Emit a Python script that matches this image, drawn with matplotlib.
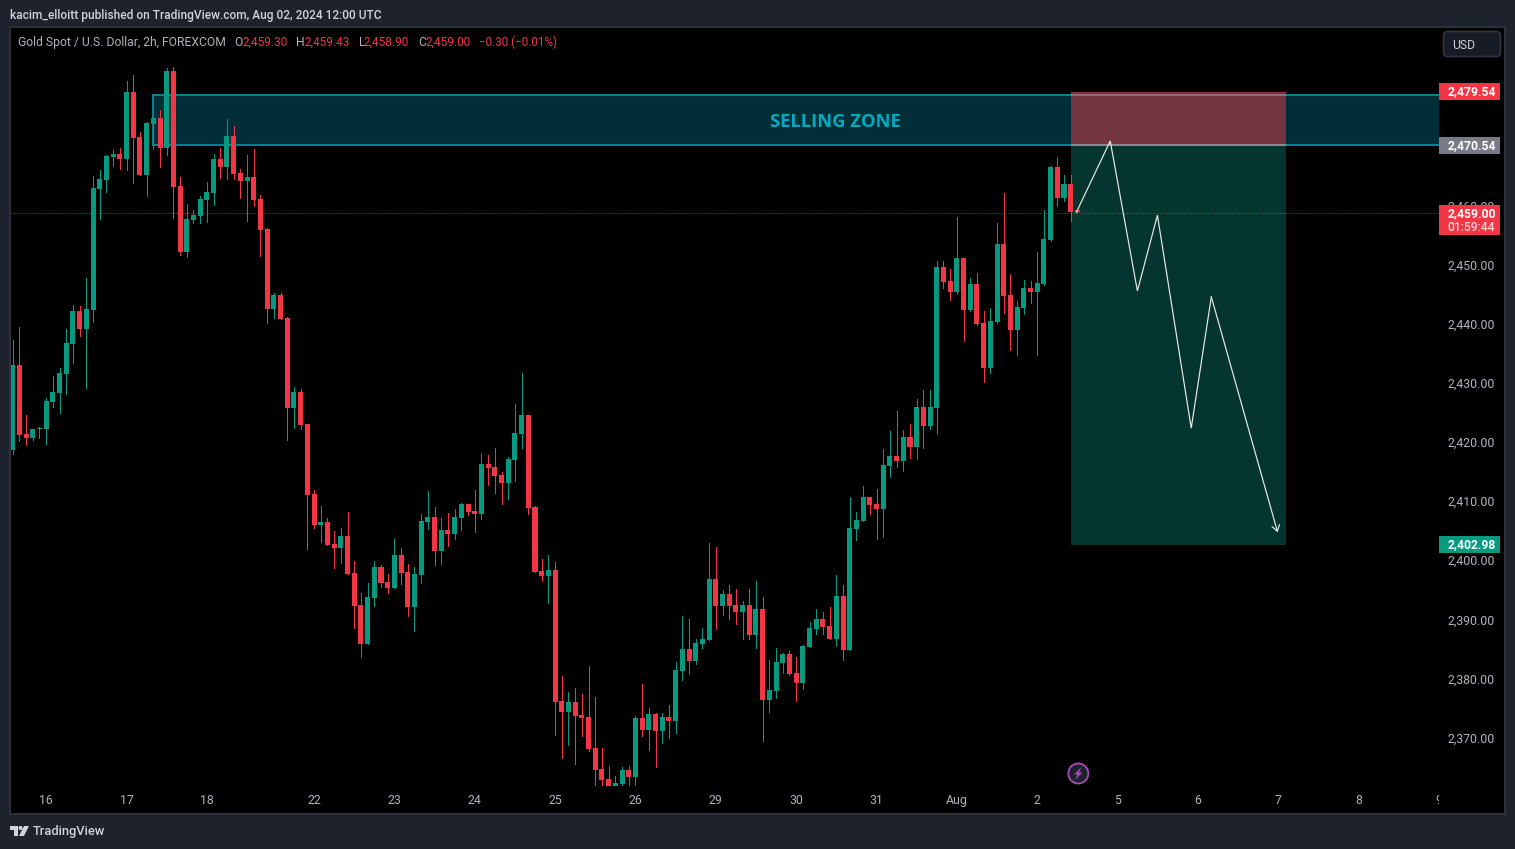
import matplotlib
matplotlib.use("Agg")
import matplotlib.pyplot as plt
from matplotlib.patches import Rectangle, FancyBboxPatch, Circle, Polygon
from matplotlib.transforms import Bbox, TransformedBbox, ScaledTranslation

plt.rcParams["font.family"] = "Roboto"

opens = [2418.8,2433.2,2421.5,2420.8,2422.4,2422.4,2426.9,2428.4,2431.7,2436.7,2442.3,2439.3,2442.5,2462.9,2464.5,2468.3,2468.9,2468.0,2479.3,2471.7,
2465.3,2473.9,2474.9,2469.9,2482.9,2463.4,2452.3,2457.7,2458.4,2461.1,2462.3,2468.0,2466.7,2471.9,2465.6,2464.3,2465.0,2461.2,2456.2,2442.6,
2445.0,2441.1,2425.9,2428.6,2423.2,2411.4,2406.1,2406.6,2402.9,2402.2,2404.3,2398.0,2392.6,2386.0,2393.8,2399.0,2396.5,2395.5,2401.1,2398.2,
2392.3,2397.7,2406.6,2407.5,2401.7,2405.3,2404.6,2407.3,2409.7,2408.5,2408.0,2416.4,2415.9,2414.6,2413.2,2417.1,2421.5,2424.7,2409.2,2398.4,
2397.5,2398.5,2376.4,2374.5,2376.2,2374.0,2373.7,2368.4,2364.9,2363.2,2362.0,2362.4,2364.7,2363.5,2373.5,2371.5,2374.2,2371.3,2373.7,2373.0,
2381.5,2385.2,2383.1,2386.0,2386.7,2397.0,2392.4,2394.5,2392.6,2391.4,2392.6,2387.5,2391.9,2376.6,2378.1,2382.8,2384.3,2381.1,2379.4,2385.5,
2388.6,2390.2,2389.1,2386.9,2394.1,2385.0,2405.5,2406.8,2410.9,2409.7,2408.8,2416.1,2417.8,2417.0,2421.0,2419.3,2426.1,2422.9,2425.9,2449.8,
2447.4,2445.5,2451.3,2442.5,2446.9,2440.3,2432.7,2440.5,2453.6,2445.0,2439.1,2442.8,2446.2,2445.5,2446.9,2454.3,2466.7,2461.4,2463.8,2459.3]
highs = [2437.4,2439.6,2424.7,2422.4,2422.7,2427.6,2431.3,2432.7,2439.3,2443.3,2443.2,2447.9,2465.1,2466.1,2468.7,2469.5,2469.9,2481.2,2482.2,2472.6,
2474.3,2474.9,2476.3,2483.4,2483.6,2465.0,2460.4,2459.4,2461.8,2464.1,2468.9,2469.9,2474.8,2473.6,2466.3,2468.7,2469.7,2461.9,2456.3,2445.4,
2445.4,2441.3,2429.5,2429.1,2423.2,2412.0,2409.3,2407.3,2405.1,2405.6,2408.3,2400.0,2394.6,2396.3,2400.0,2399.4,2397.8,2403.8,2402.2,2399.5,
2399.0,2408.0,2411.9,2409.2,2407.3,2408.2,2408.8,2409.9,2409.7,2412.0,2418.3,2418.0,2419.1,2415.1,2417.6,2426.6,2431.8,2424.7,2409.3,2400.4,
2401.1,2399.9,2380.6,2377.9,2378.6,2377.6,2382.3,2377.1,2368.4,2365.4,2363.7,2365.2,2365.4,2373.8,2379.3,2375.2,2374.4,2374.4,2375.7,2383.0,
2390.8,2390.2,2386.9,2388.7,2403.1,2402.4,2395.1,2396.0,2395.3,2393.3,2395.3,2396.7,2394.0,2383.3,2385.3,2384.5,2384.8,2383.8,2385.9,2389.7,
2391.9,2391.4,2392.3,2397.7,2396.0,2410.9,2408.3,2412.7,2410.9,2412.2,2419.0,2422.0,2425.4,2422.2,2423.2,2427.4,2429.0,2429.0,2450.8,2450.8,
2449.4,2458.2,2451.3,2447.9,2448.7,2442.3,2442.8,2457.2,2462.3,2448.6,2444.0,2447.6,2447.4,2452.3,2459.4,2466.8,2468.3,2465.3,2465.3,2459.43]
lows = [2418.1,2420.4,2419.7,2420.5,2420.8,2419.8,2426.1,2425.1,2428.3,2433.5,2438.1,2429.3,2440.4,2457.9,2462.4,2466.8,2466.3,2466.1,2463.9,2465.3,
2461.8,2469.7,2466.7,2468.7,2458.0,2451.8,2451.4,2457.2,2457.2,2457.4,2460.2,2464.8,2464.6,2464.6,2461.4,2457.5,2460.1,2451.6,2440.3,2441.1,
2441.0,2420.5,2422.5,2422.4,2402.1,2405.6,2403.3,2402.8,2398.9,2399.7,2397.8,2388.7,2383.8,2386.0,2392.4,2395.6,2394.6,2395.5,2396.2,2390.7,
2388.2,2396.3,2405.5,2399.4,2399.5,2402.6,2403.8,2405.3,2407.8,2404.9,2407.1,2412.9,2411.5,2409.7,2410.5,2413.6,2419.1,2408.0,2398.2,2396.7,
2392.9,2370.6,2366.7,2368.9,2365.7,2370.5,2367.9,2362.0,2362.0,2362.0,2362.0,2362.0,2362.0,2362.0,2370.5,2368.1,2365.2,2369.3,2370.1,2371.0,
2379.9,2380.9,2382.6,2385.3,2386.7,2388.6,2390.9,2390.2,2389.4,2386.9,2386.9,2385.3,2369.6,2374.5,2376.9,2381.1,2380.8,2376.4,2378.4,2385.5,
2387.7,2387.7,2386.9,2385.7,2383.3,2385.0,2403.6,2406.8,2408.0,2403.8,2404.1,2414.3,2415.9,2415.3,2417.5,2417.3,2419.2,2422.4,2421.5,2446.2,
2444.2,2445.2,2437.2,2442.3,2439.9,2430.3,2431.8,2440.3,2442.0,2435.7,2434.9,2441.8,2443.7,2434.9,2446.7,2454.2,2460.1,2460.9,2457.5,2458.9]
closes = [2433.2,2421.4,2420.8,2422.4,2422.5,2427.1,2428.6,2431.8,2436.9,2442.3,2439.3,2442.6,2463.1,2464.6,2468.5,2468.9,2468.0,2479.3,2471.6,2465.3,
2474.1,2474.9,2469.9,2482.9,2463.3,2452.3,2457.9,2458.5,2461.2,2462.4,2468.0,2466.7,2471.9,2465.5,2464.3,2465.0,2461.1,2456.0,2442.6,2445.0,
2441.0,2425.9,2428.6,2423.0,2411.2,2406.1,2406.6,2402.8,2402.2,2404.3,2397.8,2392.4,2386.0,2394.0,2399.0,2396.3,2395.5,2401.1,2398.0,2392.3,
2397.8,2406.8,2407.5,2401.7,2405.3,2404.6,2407.5,2409.7,2408.3,2408.0,2416.4,2415.8,2414.4,2413.2,2417.3,2421.7,2424.7,2409.0,2398.2,2397.5,
2398.5,2376.2,2374.5,2376.2,2373.8,2373.5,2368.3,2364.7,2363.0,2362.0,2362.5,2364.7,2363.5,2373.5,2371.5,2374.2,2371.3,2373.7,2373.0,2381.6,
2385.2,2383.1,2386.2,2386.9,2397.0,2392.4,2394.5,2392.4,2391.4,2392.6,2387.5,2391.9,2376.6,2378.2,2383.0,2384.3,2380.9,2379.4,2385.7,2388.7,
2390.2,2388.9,2386.9,2394.1,2385.0,2405.6,2407.0,2410.9,2409.5,2408.8,2416.3,2417.8,2417.0,2421.0,2419.3,2426.1,2422.9,2426.1,2449.8,2447.2,
2445.5,2451.3,2442.5,2446.9,2440.1,2432.7,2440.6,2453.6,2444.9,2439.1,2443.0,2446.2,2445.5,2447.1,2454.5,2466.7,2461.4,2463.8,2459.1,2459.0]

x_tick_pos = [5, 17, 29, 45, 57, 69, 81, 93, 105, 117, 129, 141, 153, 165, 177, 189, 201, 213]
x_tick_labels = ["16", "17", "18", "22", "23", "24", "25", "26", "29", "30", "31", "Aug", "2", "5", "6", "7", "8", "9"]
y_ticks = [2460, 2450, 2440, 2430, 2420, 2410, 2400, 2390, 2380, 2370]

zone_top, zone_bottom = 2479.0, 2470.54
zone_start, zone_end = 21.0, 214.0
stop_price, entry_price, target_price = 2479.54, 2470.54, 2402.98
pos_start, pos_end = 158.0, 190.1
last_price = 2459.00
path_x = [158.85, 163.9, 167.96, 170.95, 176.0, 179.0, 188.9]
path_y = [2459.0, 2471.05, 2445.7, 2458.5, 2422.5, 2444.7, 2404.9]

GREEN, RED = "#089981", "#f23645"
W, H = 1515, 849
PX = 72 / 100

fig = plt.figure(figsize=(W / 100, H / 100), dpi=100, facecolor="#1e222d")

def box(x0, y0, x1, y1):
    return [x0 / W, 1 - y1 / H, (x1 - x0) / W, (y1 - y0) / H]

bg = fig.add_axes([0, 0, 1, 1], zorder=0)
bg.set_xlim(0, W); bg.set_ylim(H, 0); bg.axis("off")
bg.add_patch(Rectangle((10, 27), 1495, 787, fc="#000000", ec="#2e323d", lw=1.4))

ax = fig.add_axes(box(11, 28, 1439, 786), zorder=1)
ax.set_facecolor("none")
ax.set_xlim((11 - 12.7) / 6.7, (1439 - 12.7) / 6.7)
ax.set_ylim(2450 + (265.5 - 786) / 5.915, 2450 + (265.5 - 28) / 5.915)
for s in ax.spines.values():
    s.set_visible(False)

ax.yaxis.tick_right()
ax.set_yticks(y_ticks)
ax.set_yticklabels([f"{v:,.2f}" for v in y_ticks])
ax.tick_params(axis="y", length=0, pad=6.3, labelsize=8.8, labelcolor="#b2b5be")
for lab in ax.get_yticklabels():
    lab.set_transform(lab.get_transform() + ScaledTranslation(0, 1 / 100, fig.dpi_scale_trans))
ax.set_xticks(x_tick_pos)
ax.set_xticklabels(x_tick_labels)
ax.tick_params(axis="x", length=0, pad=5.5, labelsize=8.8, labelcolor="#b2b5be")
clip = TransformedBbox(Bbox([[0, 0], [1439 / W, 1]]), fig.transFigure)
for lab in ax.get_xticklabels():
    lab.set_clip_box(clip)
    lab.set_clip_on(True)

# levels sit one pixel lower than the tick-derived price scale
def lv(p):
    return p - 1 / 5.915

ax.add_patch(Rectangle((zone_start, lv(zone_bottom)), zone_end - zone_start, zone_top - zone_bottom,
                       fc="#022f37", ec="#00838f", lw=2 * PX, zorder=1))
ax.add_patch(Rectangle((pos_start, lv(entry_price)), pos_end - pos_start, stop_price - entry_price,
                       fc="#733641", ec="none", zorder=2))
ax.add_patch(Rectangle((pos_start, lv(target_price)), pos_end - pos_start, entry_price - target_price,
                       fc="#04352e", ec="none", zorder=2))
ax.hlines([lv(zone_top), lv(zone_bottom)], pos_start, pos_end, colors=["#80757f", "#858a90"], lw=2 * PX, zorder=3)
ax.hlines([lv(stop_price)], pos_start, pos_end, colors=["#92303c"], lw=1 * PX, zorder=3)
ax.text(122.9, 2474.3, "SELLING ZONE", color="#00acc1", fontsize=13.2,
        fontweight="bold", ha="center", va="center", zorder=3, family="Open Sans")
ax.axhline(lv(last_price), color=RED, lw=1 * PX, ls=(0, (1, 2)), zorder=4, alpha=0.9)

xs = list(range(len(opens)))
colors = [GREEN if c >= o else RED for o, c in zip(opens, closes)]
ax.vlines(xs, lows, highs, colors=colors, lw=1 * PX, zorder=5, antialiased=False)
ax.bar(xs, [abs(c - o) for o, c in zip(opens, closes)], bottom=[min(o, c) for o, c in zip(opens, closes)],
       width=0.75, color=colors, lw=0, zorder=5)

ax.plot(path_x[:-1], path_y[:-1], color="#e8e8e8", lw=1.2 * PX, zorder=6, solid_joinstyle="miter")
ax.annotate("", xy=(path_x[-1], path_y[-1]), xytext=(path_x[-2], path_y[-2]), zorder=6,
            arrowprops=dict(arrowstyle="->,head_length=0.42,head_width=0.28", color="#e8e8e8", lw=1.2 * PX,
                            shrinkA=0, shrinkB=0))

fg = fig.add_axes([0, 0, 1, 1], zorder=2)
fg.set_xlim(0, W); fg.set_ylim(H, 0); fg.axis("off"); fg.patch.set_alpha(0)

def to_px(price):
    fy = ax.transData.transform((0, lv(price)))[1]
    return H - fy

def tag(price, txt, color, extra=None):
    y = to_px(price)
    if extra:
        fg.add_patch(Rectangle((1439, y - 8), 61, 30, fc=color, ec="none", zorder=3))
        fg.text(1471.5, y + 0.3, txt, color="white", fontsize=8.7, fontweight="bold", ha="center", va="center", zorder=4)
        fg.text(1471.5, y + 14.5, extra, color="#fbdde0", fontsize=8.7, fontweight="medium", ha="center", va="center", zorder=4)
    else:
        fg.add_patch(Rectangle((1439, y - 8.5), 61, 17, fc=color, ec="none", zorder=3))
        fg.text(1471.5, y + 0.3, txt, color="white", fontsize=8.7, fontweight="bold", ha="center", va="center", zorder=4)

tag(stop_price, f"{stop_price:,.2f}", RED)
tag(entry_price, f"{entry_price:,.2f}", "#787b86")
tag(target_price, f"{target_price:,.2f}", GREEN)
tag(last_price, f"{last_price:,.2f}", RED, "01:59:44")

# header text
fg.text(10, 15, "kacim_elloitt published on TradingView.com, Aug 02, 2024 12:00 UTC", color="#d1d4dc",
        fontsize=8.6, fontweight="medium", va="center")
fg.text(18, 42, "Gold Spot / U.S. Dollar, 2h, FOREXCOM", color="#b2b5be", fontsize=8.78, va="center")
for x, t, c, fs in [(234, "O", "#b2b5be", 8.7), (242.5, "2,459.30", RED, 8.5), (296, "H", "#b2b5be", 8.7), (304.7, "2,459.43", RED, 8.5),
                    (358.5, "L", "#b2b5be", 8.7), (364, "2,458.90", RED, 8.5), (418, "C", "#b2b5be", 8.7), (425, "2,459.00", RED, 8.5),
                    (479, "\u22120.30 (\u22120.01%)", RED, 8.4)]:
    fg.text(x, 42, t, color=c, fontsize=fs, va="center")

# currency button
fg.add_patch(FancyBboxPatch((1443.5, 31.5), 57, 25, boxstyle="round,pad=0,rounding_size=4", fc="#171b26", ec="#30343f", lw=1.2,
                            mutation_aspect=1))
fg.text(1452, 45, "USD", color="#d1d4dc", fontsize=8.7, va="center")

# lightning badge
fg.add_patch(Circle((1078.3, 773.5), 10, fc="#1e222d", ec="#ab47bc", lw=1.3))
fg.add_patch(Polygon([(1081.5, 767), (1074, 774.5), (1077.5, 774.5), (1075, 780), (1082.5, 772.5), (1079, 772.5)],
                     fc="#ab47bc", ec="none"))

# brand mark
lc = "#d1d4dc"
fg.add_patch(Polygon([(10, 826), (18, 826), (18, 836), (14, 836), (14, 830), (10, 830)], fc=lc, ec="none"))
fg.add_patch(Circle((20.5, 828), 2, fc=lc, ec="none"))
fg.add_patch(Polygon([(24, 826), (29, 826), (24, 836), (19, 836)], fc=lc, ec="none"))
fg.text(33, 831.5, "TradingView", color="#d1d4dc", fontsize=9.3, fontweight="medium", va="center")

fig.savefig("out.png", dpi=100, facecolor=fig.get_facecolor())
